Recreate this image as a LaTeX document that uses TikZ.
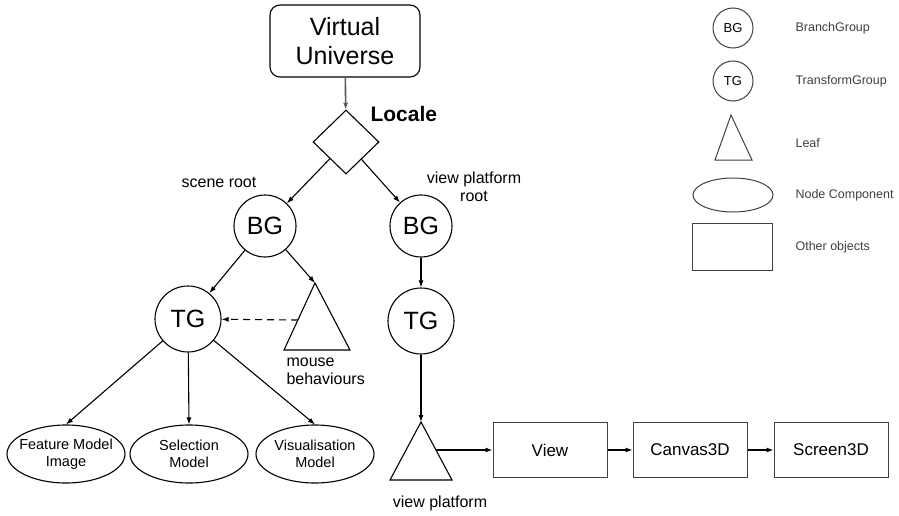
\documentclass[tikz,border=0pt]{standalone}
\usepackage{fontspec}
\setmainfont{Liberation Sans}
\usetikzlibrary{shapes.geometric,arrows.meta}
\begin{document}
\begin{tikzpicture}[x=1pt,y=-1pt,line width=1.1pt,
  arr/.style={-{Latex[length=7pt,width=5pt]}},
  circ/.style={circle,draw,minimum size=62pt,inner sep=0pt,font=\fontsize{25}{28}\selectfont},
  vubox/.style={draw,rounded corners=10pt,minimum width=150pt,minimum height=72pt,align=center,font=\fontsize{25}{29}\selectfont},
  lab/.style={font=\fontsize{16}{18}\selectfont,inner sep=0pt},
  ell/.style={ellipse,draw,minimum width=118pt,minimum height=58pt,inner sep=0pt},
  etext/.style={align=center,font=\fontsize{14.5}{17}\selectfont,inner sep=0pt},
  obox/.style={draw=black!75,line width=1pt,minimum width=114pt,minimum height=55pt,font=\fontsize{17}{20}\selectfont},
  lcirc/.style={circle,draw=black!75,line width=1pt,minimum size=40pt,inner sep=0pt,font=\fontsize{13}{15}\selectfont},
  ltext/.style={anchor=west,text=black!75,font=\fontsize{12.5}{15}\selectfont,inner sep=0pt},
  lshape/.style={draw=black!75,line width=1pt}]
\useasboundingbox (0,0) rectangle (899,516);

% main tree
\node[vubox] (VU) at (345,41) {Virtual\\Universe};
\node[diamond,draw,minimum width=66pt,minimum height=64pt,inner sep=0pt] (loc) at (346,142) {};
\node[anchor=west,inner sep=0pt,font=\bfseries\fontsize{21}{24}\selectfont] (loclab) at (370,114) {Locale};
\node[circ] (BGL) at (265,226) {BG};
\node[circ] (BGR) at (421,226) {BG};
\node[circ,minimum size=66pt] (TGL) at (188,319) {TG};
\node[circ,minimum size=66pt] (TGR) at (421,321) {TG};
\node[lab] (scl) at (219,182) {scene root};
\node[lab,align=center] (vpr) at (474,187) {view platform\\root};

% mouse behaviours leaf
\coordinate (mA) at (315,283);
\coordinate (mL) at (284,350);
\coordinate (mR) at (350,350);
\coordinate (mE) at (298,320);
\draw (mA) -- (mL) -- (mR) -- cycle;
\node[lab,anchor=north west,align=left] (mlab) at (286,357) {mouse\\behaviours};

% node components
\node[ell] (E1) at (66,454) {};
\node[etext] at (E1) {Feature Model\\Image};
\node[ell] (E2) at (189,454) {};
\node[etext] at (E2) {Selection\\Model};
\node[ell] (E3) at (315,454) {};
\node[etext] at (E3) {Visualisation\\Model};

% view platform leaf
\coordinate (vA) at (421,422);
\coordinate (vL) at (390,480);
\coordinate (vR) at (452,480);
\coordinate (vE) at (436,450);
\draw (vA) -- (vL) -- (vR) -- cycle;
\node[lab] (vplab) at (440,503) {view platform};

% other objects
\node[obox] (View) at (550,450) {View};
\node[obox] (Canvas) at (690,450) {Canvas3D};
\node[obox] (Screen) at (831,450) {Screen3D};

% connectors
\draw[arr,draw=black!65,line width=1.6pt] (VU) -- (loc);
\draw[arr] (loc) -- (BGL);
\draw[arr] (loc) -- (BGR);
\draw[arr] (BGL) -- (TGL);
\draw[arr] (BGL) -- (mA);
\draw[arr,dashed,dash pattern=on 7pt off 5pt] (mE) -- (TGL);
\draw[arr] (BGR) -- (TGR);
\draw[arr] (TGR) -- (vA);
\draw[arr] (TGL) -- (E1.north);
\draw[arr] (TGL) -- (E2.north);
\draw[arr] (TGL) -- (E3.north);
\draw[arr] (vE) -- (View);
\draw[arr] (View) -- (Canvas);
\draw[arr] (Canvas) -- (Screen);

% legend
\node[lcirc] (lBG) at (733,28) {BG};
\node[ltext] (tBG) at (795,28) {BranchGroup};
\node[lcirc] (lTG) at (733,81) {TG};
\node[ltext] (tTG) at (795,81) {TransformGroup};
\coordinate (lA) at (731,115);
\coordinate (lL) at (715,160);
\coordinate (lR) at (752,160);
\draw[lshape] (lA) -- (lL) -- (lR) -- cycle;
\node[ltext] (tLeaf) at (795,143) {Leaf};
\node[ellipse,lshape,minimum width=80pt,minimum height=34pt] (lE) at (733,195) {};
\node[ltext] (tNC) at (795,195) {Node Component};
\node[lshape,minimum width=80pt,minimum height=47pt] (lRect) at (732,247) {};
\node[ltext] (tOO) at (795,247) {Other objects};
\end{tikzpicture}
\end{document}
